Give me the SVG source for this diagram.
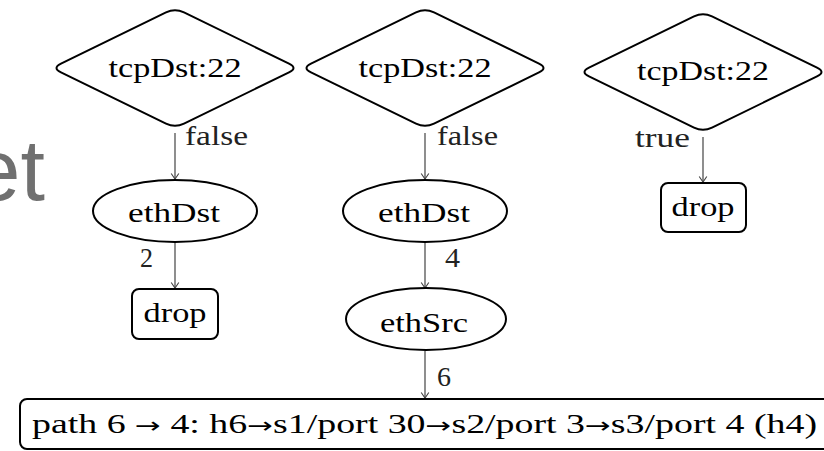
<svg xmlns="http://www.w3.org/2000/svg" width="824" height="451" viewBox="0 0 824 451">
<style>
.n{fill:#fff;stroke:#000;stroke-width:2}
.t{font-family:'Liberation Serif','DejaVu Serif',serif;font-size:27px;fill:#000;text-anchor:middle}
.l{font-family:'Liberation Serif','DejaVu Serif',serif;font-size:27px;fill:#222}
.a{font-family:'DejaVu Sans',sans-serif;font-size:22px}
.e{fill:none;stroke:#444;stroke-width:1.2;marker-end:url(#ah)}
</style>
<defs>
<path id="dia" d="M 9,-55.6 L 114,-4.4 Q 123,0 114,4.4 L 9,55.6 Q 0,60 -9,55.6 L -114,4.4 Q -123,0 -114,-4.4 L -9,-55.6 Q 0,-60 9,-55.6 Z"/>
<marker id="ah" viewBox="-7 -5 9 10" refX="0" refY="0" markerWidth="9" markerHeight="10" markerUnits="userSpaceOnUse" orient="auto">
<path d="M -5.5,-3.8 L 0,0 L -5.5,3.8" fill="none" stroke="#444" stroke-width="1.1"/>
</marker>
</defs>
<rect width="824" height="451" fill="#fff"/>
<text x="45" y="200" text-anchor="end" font-family="'Liberation Sans',Arial,sans-serif" font-size="88" fill="#707070">et</text>
<g id="edges">
<path class="e" d="M175,133 L175,179"/>
<path class="e" d="M175,243 L175,288"/>
<path class="e" d="M425,133 L425,179"/>
<path class="e" d="M425,243 L425,288"/>
<path class="e" d="M425,351 L425,398"/>
<path class="e" d="M703,137 L703,182"/>
<text class="l" x="185" y="145" textLength="63" lengthAdjust="spacingAndGlyphs">false</text>
<text class="l" x="437" y="145" textLength="61" lengthAdjust="spacingAndGlyphs">false</text>
<text class="l" x="635" y="147" textLength="55" lengthAdjust="spacingAndGlyphs">true</text>
<text class="l" x="140" y="267" textLength="13" lengthAdjust="spacingAndGlyphs">2</text>
<text class="l" x="445" y="267" textLength="15" lengthAdjust="spacingAndGlyphs">4</text>
<text class="l" x="437" y="386" textLength="14" lengthAdjust="spacingAndGlyphs">6</text>
</g>
<g id="d1">
<use href="#dia" class="n" x="175" y="68"/>
<text class="t" x="175" y="77" textLength="133" lengthAdjust="spacingAndGlyphs">tcpDst:22</text>
</g>
<g id="d2">
<use href="#dia" class="n" x="425" y="68"/>
<text class="t" x="425" y="77" textLength="133" lengthAdjust="spacingAndGlyphs">tcpDst:22</text>
</g>
<g id="d3">
<use href="#dia" class="n" x="703" y="72"/>
<text class="t" x="703" y="80" textLength="132" lengthAdjust="spacingAndGlyphs">tcpDst:22</text>
</g>
<g id="e1">
<ellipse class="n" cx="175" cy="211" rx="82" ry="31"/>
<text class="t" x="174" y="222" textLength="92" lengthAdjust="spacingAndGlyphs">ethDst</text>
</g>
<g id="e2">
<ellipse class="n" cx="425" cy="211" rx="82" ry="31"/>
<text class="t" x="424" y="222" textLength="92" lengthAdjust="spacingAndGlyphs">ethDst</text>
</g>
<g id="e3">
<ellipse class="n" cx="426" cy="319" rx="80" ry="31"/>
<text class="t" x="424" y="332" textLength="88" lengthAdjust="spacingAndGlyphs">ethSrc</text>
</g>
<g id="drop1">
<rect class="n" x="132" y="289" width="86" height="50" rx="7"/>
<text class="t" x="175" y="322" textLength="63" lengthAdjust="spacingAndGlyphs">drop</text>
</g>
<g id="drop2">
<rect class="n" x="661" y="183" width="85" height="49" rx="7"/>
<text class="t" x="703" y="216" textLength="63" lengthAdjust="spacingAndGlyphs">drop</text>
</g>
<g id="path">
<rect class="n" x="20" y="399" width="830" height="50" rx="7"/>
<text class="l" x="32" y="433" textLength="785" lengthAdjust="spacingAndGlyphs" style="fill:#000">path 6 <tspan class="a">→</tspan> 4:  h6<tspan class="a">→</tspan>s1/port 30<tspan class="a">→</tspan>s2/port 3<tspan class="a">→</tspan>s3/port 4 (h4)</text>
</g>
</svg>
